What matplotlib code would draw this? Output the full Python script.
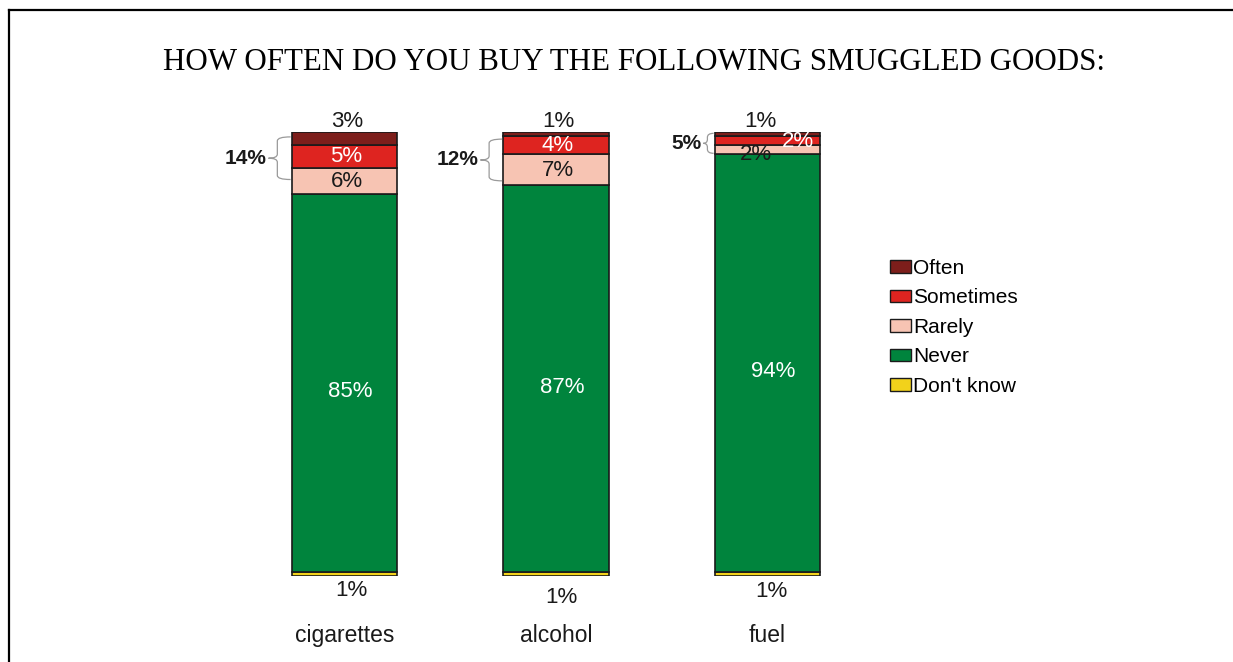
"""Stacked bar chart: how often smuggled goods are bought."""

import matplotlib

matplotlib.use("Agg")
import matplotlib.pyplot as plt
from matplotlib.lines import Line2D
from matplotlib.patches import PathPatch, Patch
from matplotlib.path import Path

plt.rcParams["font.family"] = ["Liberation Sans", "DejaVu Sans"]

categories = ["cigarettes", "alcohol", "fuel"]
series_names = ["Don't know", "Never", "Rarely", "Sometimes", "Often"]
dont_know = [1, 1, 1]
never = [85, 87, 94]
rarely = [6, 7, 2]
sometimes = [5, 4, 2]
often = [3, 1, 1]

COLORS = {
    "Don't know": "#F2D21B",
    "Never": "#00843D",
    "Rarely": "#F7C4B3",
    "Sometimes": "#DE2420",
    "Often": "#7D1E1B",
}
TEXT_COLORS = {
    "Never": "white",
    "Rarely": "#1a1a1a",
    "Sometimes": "white",
}

# pixel nudges for segment labels (x right, y up)
SERIES_NUDGE = {"Never": (6, -9), "Rarely": (2, -1), "Sometimes": (2, 0)}
LABEL_NUDGE = {
    ("fuel", "Sometimes"): (30, -1),
    ("fuel", "Rarely"): (-12, -5),
}
TOP_NUDGE = [3, 2, -7]
BOTTOM_NUDGE = [(7, 0), (5, -7), (4, -1)]
# vertical extent of the brace next to each bar (percent scale)
BRACE_SPAN = [(89.3, 98.9), (89.0, 98.4), (95.2, 99.7)]

BAR_WIDTH = 0.5
PT = 0.72  # points per pixel at dpi 100
VALUE_SIZE = 16

fig = plt.figure(figsize=(12.33, 6.62), dpi=100)
ax = fig.add_axes([0.19364, 0.12991, 0.51460, 0.67069])
ax.set_xlim(-0.5, 2.5)
ax.set_ylim(0, 100)
for spine in ax.spines.values():
    spine.set_visible(False)
ax.set_yticks([])
ax.set_xticks([])

stack = {
    "Don't know": dont_know,
    "Never": never,
    "Rarely": rarely,
    "Sometimes": sometimes,
    "Often": often,
}
xs = list(range(len(categories)))
bottoms = [0.0] * len(categories)
for name in series_names:
    values = stack[name]
    ax.bar(
        xs,
        values,
        BAR_WIDTH,
        bottom=bottoms,
        color=COLORS[name],
        edgecolor="#1a1a1a",
        linewidth=1.2,
        label=name,
    )
    if name in TEXT_COLORS:
        for i, (v, b) in enumerate(zip(values, bottoms)):
            dx, dy = LABEL_NUDGE.get((categories[i], name), SERIES_NUDGE[name])
            ax.annotate(
                f"{v}%",
                (xs[i], b + v / 2),
                xytext=(dx * PT, dy * PT),
                textcoords="offset points",
                ha="center",
                va="center",
                fontsize=VALUE_SIZE,
                color=TEXT_COLORS[name],
            )
    bottoms = [b + v for b, v in zip(bottoms, values)]

# "Often" above the bar, "Don't know" below it
for i in xs:
    ax.annotate(
        f"{often[i]}%",
        (xs[i], bottoms[i]),
        xytext=(TOP_NUDGE[i] * PT, 0),
        textcoords="offset points",
        ha="center",
        va="bottom",
        fontsize=VALUE_SIZE,
        color="#1a1a1a",
    )
    bx, by = BOTTOM_NUDGE[i]
    ax.annotate(
        f"{dont_know[i]}%",
        (xs[i], 0),
        xytext=(bx * PT, (by - 15) * PT),
        textcoords="offset points",
        ha="center",
        va="center",
        fontsize=VALUE_SIZE,
        color="#1a1a1a",
    )
    ax.annotate(
        categories[i],
        (xs[i], 0),
        xytext=(0, -60 * PT),
        textcoords="offset points",
        ha="center",
        va="center",
        fontsize=16.5,
        color="#1a1a1a",
    )

# curly braces summarising Rarely + Sometimes + Often
px_x = 211.5  # pixels per x unit
px_y = 4.44  # pixels per percent
for i in xs:
    total = rarely[i] + sometimes[i] + often[i]
    y0, y1 = BRACE_SPAN[i]
    ym = (y0 + y1) / 2
    h_px = (y1 - y0) * px_y
    w = 0.52 * h_px / px_x
    xr = xs[i] - BAR_WIDTH / 2 - 1 / px_x
    xm = xr - 0.6 * w
    xt = xr - w
    q = min(4.0, h_px / 5) / px_y
    verts = [
        (xr, y1), (xm, y1), (xm, y1 - q),
        (xm, ym + q),
        (xm, ym), (xt, ym),
        (xm, ym), (xm, ym - q),
        (xm, y0 + q),
        (xm, y0), (xr, y0),
    ]
    codes = [
        Path.MOVETO, Path.CURVE3, Path.CURVE3,
        Path.LINETO,
        Path.CURVE3, Path.CURVE3,
        Path.CURVE3, Path.CURVE3,
        Path.LINETO,
        Path.CURVE3, Path.CURVE3,
    ]
    ax.add_patch(
        PathPatch(Path(verts, codes), facecolor="none", edgecolor="#9a9a9a", linewidth=0.9)
    )
    ax.annotate(
        f"{total}%",
        (xt, ym),
        xytext=(-2 * PT, 0),
        textcoords="offset points",
        ha="right",
        va="center",
        fontsize=15,
        fontweight="bold",
        color="#1a1a1a",
    )

handles = [
    Patch(facecolor=COLORS[n], edgecolor="#1a1a1a", linewidth=1.0, label=n)
    for n in reversed(series_names)
]
fig.legend(
    handles=handles,
    loc="upper left",
    bbox_to_anchor=(890 / 1233, 1 - 259 / 662),
    frameon=False,
    fontsize=15,
    handlelength=1.0,
    handleheight=0.55,
    handletextpad=0.1,
    labelspacing=0.5,
    borderpad=0,
    borderaxespad=0,
)

fig.text(
    634 / 1233,
    1 - 63 / 662,
    "HOW OFTEN DO YOU BUY THE FOLLOWING SMUGGLED GOODS:",
    ha="center",
    va="center",
    fontsize=22.3,
    family=["Liberation Serif", "DejaVu Serif"],
    color="black",
)

# frame lines along the top and left edge
fig.add_artist(Line2D([9 / 1233, 1], [1 - 10 / 662, 1 - 10 / 662], color="black", linewidth=1.6))
fig.add_artist(Line2D([9 / 1233, 9 / 1233], [0, 1 - 10 / 662], color="black", linewidth=1.6))

fig.savefig("out.png", dpi=100)
